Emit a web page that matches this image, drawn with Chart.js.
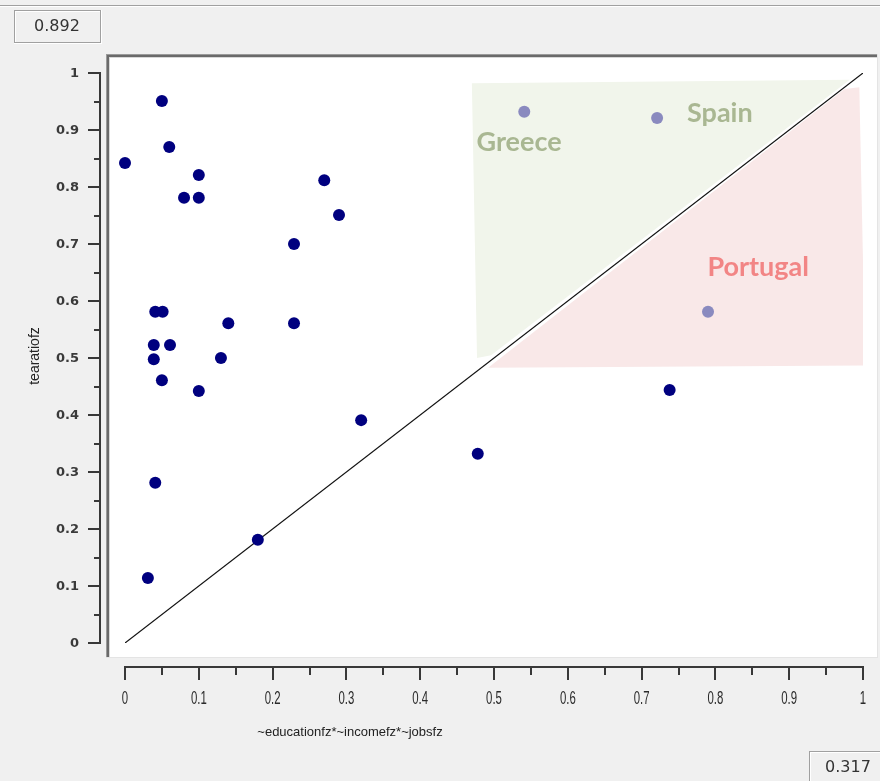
<!DOCTYPE html>
<html>
<head>
<meta charset="utf-8">
<script src="https://cdn.jsdelivr.net/npm/chart.js@4/dist/chart.umd.min.js"></script>
<style>
  html, body { margin: 0; padding: 0; background: #f0f0f0; }
  #wrap { width: 880px; height: 781px; position: relative; }
  canvas { display: block; }
</style>
</head>
<body>
<div id="wrap"><canvas id="c" width="880" height="781"></canvas></div>
<script>
// ---- data ----
const caseX = [0.050, 0.060, 0.000, 0.100, 0.080, 0.100, 0.270, 0.290, 0.229, 0.041, 0.051, 0.140, 0.229,
               0.039, 0.061, 0.039, 0.130, 0.050, 0.100, 0.320, 0.478, 0.041, 0.180, 0.031, 0.738];
const caseY = [0.951, 0.870, 0.842, 0.821, 0.781, 0.781, 0.812, 0.751, 0.700, 0.581, 0.581, 0.561, 0.561,
               0.523, 0.523, 0.498, 0.500, 0.461, 0.442, 0.391, 0.332, 0.281, 0.181, 0.114, 0.444];
const highlightNames = ['Greece', 'Spain', 'Portugal'];
const highlightX = [0.541, 0.721, 0.790];
const highlightY = [0.932, 0.921, 0.581];
const labelX = [0.534, 0.806, 0.858];
const labelY = [0.879, 0.930, 0.660];
const diagonalX = [0, 1];
const diagonalY = [0, 1];
const greenZoneX = [0.470, 0.982, 0.496, 0.477];
const greenZoneY = [0.982, 0.988, 0.505, 0.500];
const redZoneX = [0.492, 0.975, 0.995, 1.003];
const redZoneY = [0.483, 0.972, 0.975, 0.487];
const tickValues = [0, 0.05, 0.1, 0.15, 0.2, 0.25, 0.3, 0.35, 0.4, 0.45, 0.5, 0.55, 0.6, 0.65, 0.7, 0.75, 0.8, 0.85, 0.9, 0.95, 1];
const tickLabels = ['0', '', '0.1', '', '0.2', '', '0.3', '', '0.4', '', '0.5', '', '0.6', '', '0.7', '', '0.8', '', '0.9', '', '1'];
const xTitle = '~educationfz*~incomefz*~jobsfz';
const yTitle = 'tearatiofz';
const topLeftValue = '0.892';
const bottomRightValue = '0.317';

const pts = (xs, ys) => xs.map((x, i) => ({ x: x, y: ys[i] }));

const decor = {
  id: 'decor',
  beforeDraw(chart) {
    const ctx = chart.ctx, a = chart.chartArea;
    ctx.save();
    ctx.fillStyle = '#f0f0f0';
    ctx.fillRect(0, 0, chart.width, chart.height);
    // top separator
    ctx.fillStyle = '#a0a0a0'; ctx.fillRect(0, 5, chart.width, 1);
    ctx.fillStyle = '#ffffff'; ctx.fillRect(0, 6, chart.width, 1);
    // sunken plot frame
    const fl = a.left - 19, ft = a.top - 19, fr = a.right + 14, fb = a.bottom + 14;
    ctx.fillStyle = '#ffffff';
    ctx.fillRect(fl, ft, fr - fl, fb - ft);
    ctx.fillStyle = '#9a9a9a';
    ctx.fillRect(fl, ft, fr - fl, 1); ctx.fillRect(fl, ft, 1, fb - ft);
    ctx.fillStyle = '#6a6a6a';
    ctx.fillRect(fl + 1, ft + 1, fr - fl - 1, 2); ctx.fillRect(fl + 1, ft + 1, 2, fb - ft - 1);
    ctx.fillStyle = '#d8d8d8';
    ctx.fillRect(fl + 3, ft + 3, fr - fl - 3, 1); ctx.fillRect(fl + 3, ft + 3, 1, fb - ft - 3);
    ctx.fillStyle = '#e4e4e4';
    ctx.fillRect(fl, fb, fr - fl + 1, 1); ctx.fillRect(fr, ft, 1, fb - ft + 1);
    // value boxes
    drawBox(ctx, 14, 10, 87, 33, topLeftValue, 57);
    drawBox(ctx, 809, 751, 80, 40, bottomRightValue, 848, 768);
    ctx.restore();
  },
  afterDraw(chart) {
    const ctx = chart.ctx, a = chart.chartArea;
    const xs = chart.scales.x, ys = chart.scales.y;
    ctx.save();
    ctx.strokeStyle = '#383838';
    ctx.lineWidth = 2;
    // y axis
    const ax = a.left - 25;
    ctx.beginPath();
    ctx.moveTo(ax, ys.getPixelForValue(0) + 1);
    ctx.lineTo(ax, ys.getPixelForValue(1) - 1);
    tickValues.forEach((v, i) => {
      const p = Math.round(ys.getPixelForValue(v));
      const len = tickLabels[i] !== '' ? 12 : 6;
      ctx.moveTo(ax, p); ctx.lineTo(ax - len, p);
    });
    ctx.stroke();
    ctx.fillStyle = '#3a3a3a';
    ctx.font = 'bold 13px "DejaVu Sans"';
    ctx.textAlign = 'right'; ctx.textBaseline = 'middle';
    tickValues.forEach((v, i) => {
      if (tickLabels[i] !== '') ctx.fillText(tickLabels[i], ax - 21, ys.getPixelForValue(v) + 1);
    });
    // x axis
    const ay = a.bottom + 24;
    ctx.beginPath();
    ctx.moveTo(xs.getPixelForValue(0) - 1, ay);
    ctx.lineTo(xs.getPixelForValue(1) + 1, ay);
    tickValues.forEach((v, i) => {
      const p = Math.round(xs.getPixelForValue(v));
      const len = tickLabels[i] !== '' ? 13 : 8;
      ctx.moveTo(p, ay); ctx.lineTo(p, ay + len);
    });
    ctx.stroke();
    ctx.textAlign = 'center'; ctx.textBaseline = 'middle';
    ctx.fillStyle = '#2a2a2a';
    ctx.font = '19px "Liberation Sans"';
    tickValues.forEach((v, i) => {
      if (tickLabels[i] === '') return;
      ctx.save();
      ctx.translate(xs.getPixelForValue(v), ay + 32);
      ctx.scale(0.6, 1);
      ctx.fillText(tickLabels[i], 0, 0);
      ctx.restore();
    });
    // titles
    ctx.fillStyle = '#222';
    ctx.font = '13px "Liberation Sans"';
    ctx.textAlign = 'center';
    ctx.fillText(xTitle, 350, a.bottom + 89);
    ctx.save();
    ctx.translate(35, 356);
    ctx.rotate(-Math.PI / 2);
    ctx.font = '14px "Liberation Sans"';
    ctx.fillText(yTitle, 0, 0);
    ctx.restore();
    ctx.restore();
  },
  afterDatasetsDraw(chart) {
    const ctx = chart.ctx;
    const xs = chart.scales.x, ys = chart.scales.y;
    ctx.save();
    ctx.font = 'bold 27px Lato';
    ctx.textAlign = 'center'; ctx.textBaseline = 'middle';
    const colors = ['#a9b792', '#a9b792', '#f28585'];
    highlightNames.forEach((n, i) => {
      ctx.fillStyle = colors[i];
      ctx.fillText(n, xs.getPixelForValue(labelX[i]), ys.getPixelForValue(labelY[i]));
    });
    ctx.restore();
  }
};

function drawBox(ctx, x, y, w, h, text, cx, cy) {
  ctx.fillStyle = '#a0a0a0';
  ctx.fillRect(x, y, w, 1); ctx.fillRect(x, y, 1, h);
  ctx.fillStyle = '#ffffff';
  ctx.fillRect(x + 1, y + 1, w - 1, 1); ctx.fillRect(x + 1, y + 1, 1, h - 1);
  ctx.fillStyle = '#ffffff';
  ctx.fillRect(x, y + h, w + 1, 1); ctx.fillRect(x + w, y, 1, h + 1);
  ctx.fillStyle = '#a0a0a0';
  ctx.fillRect(x + 1, y + h - 1, w - 1, 1); ctx.fillRect(x + w - 1, y + 1, 1, h - 1);
  ctx.fillStyle = '#333';
  ctx.font = '16px "DejaVu Sans"';
  ctx.textAlign = 'center'; ctx.textBaseline = 'middle';
  ctx.fillText(text, cx, cy !== undefined ? cy : y + h / 2);
}

new Chart(document.getElementById('c'), {
  type: 'scatter',
  data: {
    datasets: [
      { type: 'line', label: 'green', data: pts(greenZoneX, greenZoneY), fill: 'shape',
        backgroundColor: '#f1f5eb', borderWidth: 0, pointRadius: 0, order: 5, clip: false },
      { type: 'line', label: 'red', data: pts(redZoneX, redZoneY), fill: 'shape',
        backgroundColor: '#f9e8e8', borderWidth: 0, pointRadius: 0, order: 4, clip: false },
      { type: 'line', label: 'diagonal', data: pts(diagonalX, diagonalY), borderColor: '#111',
        borderWidth: 1.2, pointRadius: 0, fill: false, order: 3 },
      { label: 'highlight', data: pts(highlightX, highlightY), backgroundColor: '#8a8abf',
        borderWidth: 0, pointRadius: 6, order: 2, clip: false },
      { label: 'cases', data: pts(caseX, caseY), backgroundColor: '#00007f',
        borderWidth: 0, pointRadius: 6, order: 1, clip: false }
    ]
  },
  options: {
    responsive: false,
    animation: false,
    devicePixelRatio: 1,
    layout: { padding: { left: 125, right: 17, top: 73, bottom: 138 } },
    plugins: { legend: { display: false }, tooltip: { enabled: false } },
    scales: {
      x: { type: 'linear', min: 0, max: 1, display: false },
      y: { type: 'linear', min: 0, max: 1, display: false }
    }
  },
  plugins: [decor]
});
</script>
</body>
</html>
